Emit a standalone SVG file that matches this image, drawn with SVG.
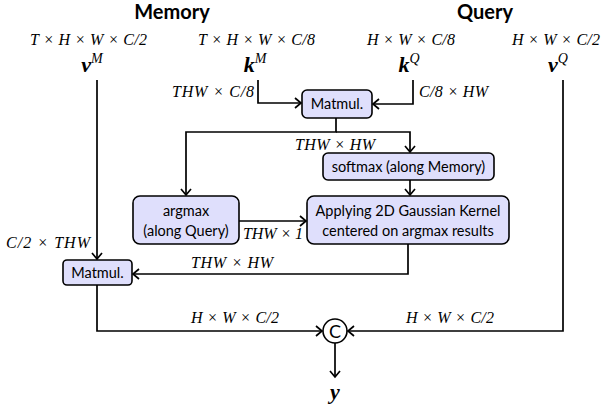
<svg xmlns="http://www.w3.org/2000/svg" width="602" height="408" viewBox="0 0 602 408">
<style>
.title{font-family:Lato,"Open Sans",sans-serif;font-weight:bold;font-size:20px;fill:#000;text-anchor:middle}
.dim{font-family:"Liberation Serif",serif;font-style:italic;font-size:16px;fill:#000}
.vec{font-family:"Liberation Serif",serif;font-style:italic;font-weight:bold;font-size:22px;fill:#000;text-anchor:middle}
.sup{font-family:"Liberation Serif",serif;font-style:italic;font-weight:normal;font-size:14px}
.box{fill:#dfdffc;stroke:#000;stroke-width:1.6}
.lbl{font-family:Lato,"Open Sans",sans-serif;font-size:14.5px;fill:#000;text-anchor:middle}
.wire{fill:none;stroke:#000;stroke-width:1.7}
</style>
<defs>
<marker id="ah" markerUnits="userSpaceOnUse" markerWidth="14" markerHeight="14" viewBox="-8 -7 10 14" refX="0" refY="0" orient="auto">
<path d="M-6,-5 L0,0 L-6,5" fill="none" stroke="#000" stroke-width="1.7"/>
</marker>
</defs>
<rect width="602" height="408" fill="#fff"/>

<g id="headers">
<text class="title" x="172" y="19">Memory</text>
<text class="title" x="485" y="19">Query</text>
</g>

<g id="input-vM">
<text class="dim" x="88.5" y="45" text-anchor="middle" textLength="117" lengthAdjust="spacing">T × H × W × C/2</text>
<text class="vec" x="92" y="72">v<tspan class="sup" dy="-9">M</tspan></text>
</g>
<g id="input-kM">
<text class="dim" x="256.5" y="45" text-anchor="middle" textLength="117" lengthAdjust="spacing">T × H × W × C/8</text>
<text class="vec" x="255" y="72">k<tspan class="sup" dy="-9">M</tspan></text>
</g>
<g id="input-kQ">
<text class="dim" x="411" y="45" text-anchor="middle" textLength="88" lengthAdjust="spacing">H × W × C/8</text>
<text class="vec" x="409" y="72">k<tspan class="sup" dy="-9">Q</tspan></text>
</g>
<g id="input-vQ">
<text class="dim" x="556" y="45" text-anchor="middle" textLength="88" lengthAdjust="spacing">H × W × C/2</text>
<text class="vec" x="558" y="72">v<tspan class="sup" dy="-9">Q</tspan></text>
</g>

<g id="connectors">
<path class="wire" d="M97,80 V259" marker-end="url(#ah)"/>
<path class="wire" d="M258,80 V103 H301" marker-end="url(#ah)"/>
<path class="wire" d="M413,80 V104 H373" marker-end="url(#ah)"/>
<path class="wire" d="M336,118 V132 H186 V195" marker-end="url(#ah)"/>
<path class="wire" d="M336,132 H410 V152" marker-end="url(#ah)"/>
<path class="wire" d="M410,180 V195" marker-end="url(#ah)"/>
<path class="wire" d="M239,221 H306" marker-end="url(#ah)"/>
<path class="wire" d="M408,244 V274 H133" marker-end="url(#ah)"/>
<path class="wire" d="M97,285 V331 H322" marker-end="url(#ah)"/>
<path class="wire" d="M563,80 V331 H348" marker-end="url(#ah)"/>
<path class="wire" d="M335,343 V377" marker-end="url(#ah)"/>
<text class="dim" x="90" y="248" text-anchor="end" textLength="84" lengthAdjust="spacing">C/2 × THW</text>
<text class="dim" x="254" y="97" text-anchor="end" textLength="82" lengthAdjust="spacing">THW × C/8</text>
<text class="dim" x="419" y="97" textLength="69" lengthAdjust="spacing">C/8 × HW</text>
<text class="dim" x="335" y="150" text-anchor="middle" textLength="80" lengthAdjust="spacing">THW × HW</text>
<text class="dim" x="243" y="239" textLength="60" lengthAdjust="spacing">THW × 1</text>
<text class="dim" x="232" y="268" text-anchor="middle" textLength="82" lengthAdjust="spacing">THW × HW</text>
<text class="dim" x="235" y="323" text-anchor="middle" textLength="88" lengthAdjust="spacing">H × W × C/2</text>
<text class="dim" x="450" y="323" text-anchor="middle" textLength="88" lengthAdjust="spacing">H × W × C/2</text>
</g>

<g id="matmul1">
<rect class="box" x="302" y="90" width="70" height="28" rx="5"/>
<text class="lbl" x="337" y="109">Matmul.</text>
</g>
<g id="softmax">
<rect class="box" x="323" y="153" width="171" height="27" rx="5"/>
<text class="lbl" x="408.5" y="172">softmax (along Memory)</text>
</g>
<g id="argmax">
<rect class="box" x="133" y="196" width="106" height="48" rx="7"/>
<text class="lbl" x="186" y="216">argmax</text>
<text class="lbl" x="186" y="236">(along Query)</text>
</g>
<g id="gaussian">
<rect class="box" x="307" y="196" width="202" height="48" rx="7"/>
<text class="lbl" x="408" y="216">Applying 2D Gaussian Kernel</text>
<text class="lbl" x="408" y="236">centered on argmax results</text>
</g>
<g id="matmul2">
<rect class="box" x="63" y="260" width="69" height="25" rx="4"/>
<text class="lbl" x="97.5" y="277.5">Matmul.</text>
</g>
<g id="concat">
<circle cx="335" cy="331" r="12" fill="#fff" stroke="#000" stroke-width="1.6"/>
<text class="lbl" x="335" y="337.5" style="font-size:18px">C</text>
</g>
<g id="output-y">
<text class="vec" x="335" y="399">y</text>
</g>
</svg>
